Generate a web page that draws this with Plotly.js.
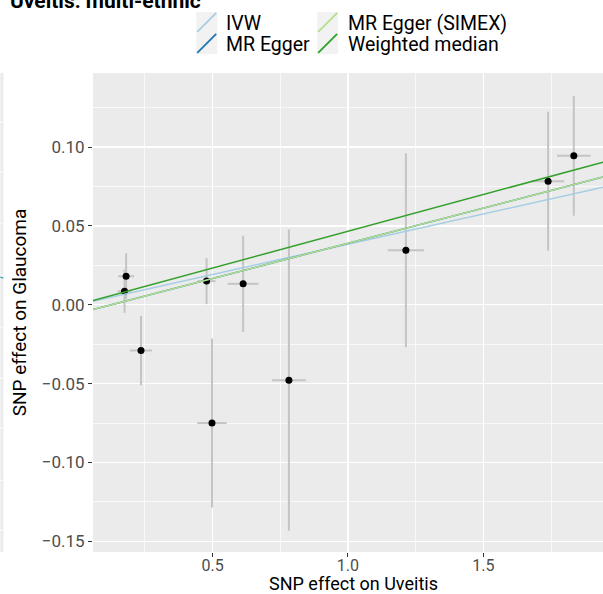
<!DOCTYPE html>
<html>
<head>
<meta charset="utf-8">
<script src="https://cdn.plot.ly/plotly-3.0.1.min.js"></script>
<style>html,body{margin:0;padding:0;background:#fff;}#chart{width:603px;height:594px;}</style>
</head>
<body>
<div id="chart"></div>
<script>
// ---- data ----
const snpX = [0.175, 0.181, 0.236, 0.478, 0.613, 0.498, 0.782, 1.214, 1.739, 1.834];
const snpY = [0.0086, 0.0181, -0.029, 0.015, 0.0133, -0.075, -0.0478, 0.0346, 0.0784, 0.0945];
const seX  = [0.026, 0.030, 0.041, 0.033, 0.057, 0.054, 0.062, 0.067, 0.060, 0.062];
const seY  = [0.0137, 0.0146, 0.022, 0.0146, 0.0305, 0.0536, 0.0956, 0.0615, 0.044, 0.038];

const methods    = ['IVW', 'MR Egger', 'MR Egger (SIMEX)', 'Weighted median'];
const intercepts = [0, -0.0056, -0.0056, 0];
const slopes     = [0.0384, 0.0446, 0.0446, 0.0466];
const colors     = ['#a6cee3', '#1f78b4', '#b2df8a', '#33a02c'];

const xTickVals = [0.5, 1.0, 1.5];
const xTickText = ['0.5', '1.0', '1.5'];
const xTitle = 'SNP effect on Uveitis';
const yTitle = 'SNP effect on Glaucoma';

// ---- geometry ----
const W = 603, H = 594;
const L = 92.7, T = 73, PW = 603 - 92.7, PH = 551.7 - 73;
const xRange = [0.0587, 1.9417];
const yRange = [-0.1568, 0.1470];
const px = x => (x - L) / PW;
const py = y => (T + PH - y) / PH;

const traces = [];
traces.push({
  type: 'scatter', mode: 'markers', x: snpX, y: snpY, showlegend: false,
  marker: {color: '#000', size: 7},
  error_x: {type: 'data', array: seX, color: '#c4c4c4', thickness: 2, width: 0},
  error_y: {type: 'data', array: seY, color: '#c4c4c4', thickness: 2, width: 0},
  hoverinfo: 'x+y'
});
methods.forEach((m, i) => {
  traces.push({
    type: 'scatter', mode: 'lines', name: m, showlegend: false,
    x: xRange.slice(),
    y: xRange.map(x => intercepts[i] + slopes[i] * x),
    line: {color: colors[i], width: 1.5}
  });
});

const shapes = [];
const annotations = [];

// neighbouring panel strip at far left
shapes.push({type: 'rect', xref: 'paper', yref: 'paper', x0: px(0), x1: px(3), y0: py(551.7), y1: py(73),
  fillcolor: '#ebebeb', line: {width: 0}, layer: 'below'});
[122, 172, 223, 275, 327, 378, 428, 480, 530].forEach(v => {
  shapes.push({type: 'line', xref: 'paper', yref: 'paper', x0: px(0), x1: px(3), y0: py(v), y1: py(v),
    line: {color: '#ffffff', width: 1}, layer: 'below'});
});
shapes.push({type: 'line', xref: 'paper', yref: 'paper', x0: px(0), x1: px(3), y0: py(277), y1: py(278),
  line: {color: '#3aa6b8', width: 1.5}});

// legend (ggplot-style keys)
const keyX = [196, 317], rowY = [12, 33], keyW = 21, keyH = 21, textX = [224, 346];
methods.forEach((m, i) => {
  const c = Math.floor(i / 2), r = i % 2;
  const x0 = keyX[c], y0 = rowY[r];
  shapes.push({type: 'rect', xref: 'paper', yref: 'paper', x0: px(x0), x1: px(x0 + keyW), y0: py(y0 + keyH), y1: py(y0),
    fillcolor: '#f2f2f2', line: {width: 0}});
  shapes.push({type: 'line', xref: 'paper', yref: 'paper', x0: px(x0 + 1), x1: px(x0 + keyW - 1), y0: py(y0 + keyH - 1), y1: py(y0 + 1),
    line: {color: colors[i], width: 1.8}});
  annotations.push({xref: 'paper', yref: 'paper', x: px(textX[c]), y: py(y0 + keyH / 2 + 1), xanchor: 'left', yanchor: 'middle',
    text: m, showarrow: false, font: {family: 'Roboto', size: 19.5, color: '#000'}});
});

// x-axis title (placed as annotation for exact position)
annotations.push({xref: 'paper', yref: 'paper', x: px(353), y: py(583.5), xanchor: 'center', yanchor: 'middle',
  borderpad: 0, text: xTitle, showarrow: false, font: {family: 'Roboto', size: 18, color: '#000'}});

// cut-off panel title
annotations.push({xref: 'paper', yref: 'paper', x: px(8), y: py(1), xanchor: 'left', yanchor: 'middle',
  text: '<b>Uveitis: multi-ethnic</b>', showarrow: false, font: {family: 'Roboto', size: 21, color: '#000'}});

const layout = {
  width: W, height: H,
  margin: {l: L, r: 0, t: T, b: H - T - PH, pad: 0},
  paper_bgcolor: '#ffffff', plot_bgcolor: '#ebebeb',
  showlegend: false,
  font: {family: 'Roboto', color: '#4d4d4d'},
  xaxis: {
    range: xRange, tickvals: xTickVals, ticktext: xTickText,
    showgrid: true, gridcolor: '#ffffff', gridwidth: 1.4, zeroline: false, showline: false,
    ticks: 'outside', ticklen: 4, tickcolor: '#333333', tickwidth: 1,
    ticklabelstandoff: -5,
    tickfont: {family: 'Roboto', size: 16, color: '#4d4d4d'},
    minor: {tick0: 0.25, dtick: 0.5, showgrid: true, gridcolor: '#ffffff', gridwidth: 0.7}
  },
  yaxis: {
    range: yRange, tick0: 0, dtick: 0.05, tickformat: '.2f',
    showgrid: true, gridcolor: '#ffffff', gridwidth: 1.4, zeroline: false, showline: false,
    ticks: 'outside', ticklen: 4, tickcolor: '#333333', tickwidth: 1,
    tickfont: {family: 'Roboto', size: 17, color: '#4d4d4d'},
    minor: {tick0: 0.025, dtick: 0.05, showgrid: true, gridcolor: '#ffffff', gridwidth: 0.7},
    title: {text: yTitle, font: {family: 'Roboto', size: 19, color: '#000'}, standoff: 10}
  },
  shapes: shapes,
  annotations: annotations
};

Plotly.newPlot('chart', traces, layout, {displayModeBar: false, staticPlot: true});
</script>
</body>
</html>
